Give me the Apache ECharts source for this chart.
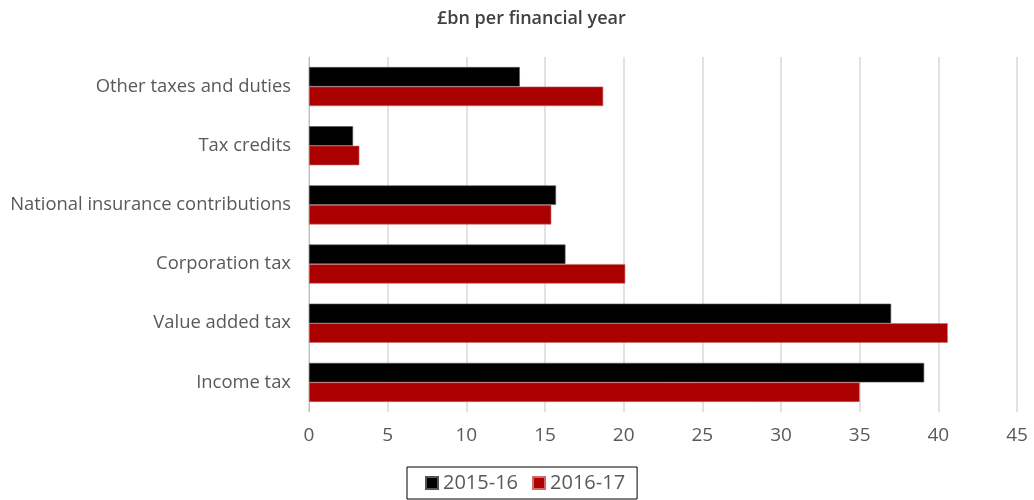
<!DOCTYPE html>
<html>
<head>
<meta charset="utf-8">
<script src="https://cdn.jsdelivr.net/npm/echarts@6/dist/echarts.min.js"></script>
<style>
  html, body { margin: 0; padding: 0; background: #fff; }
  #chart { width: 1034px; height: 500px; }
</style>
</head>
<body>
<div id="chart"></div>
<script>
// Tax categories, bottom to top as drawn on the category axis
const categories = [
  'Income tax',
  'Value added tax',
  'Corporation tax',
  'National insurance contributions',
  'Tax credits',
  'Other taxes and duties'
];
const seriesNames = ['2015-16', '2016-17'];
// £bn per financial year
const values2015 = [39.1, 37.0, 16.3, 15.7, 2.8, 13.4];
const values2016 = [35.0, 40.6, 20.1, 15.4, 3.2, 18.7];
const xTicks = { min: 0, max: 45, interval: 5 };

const FONT = '"Open Sans", "Noto Sans", sans-serif';
const chart = echarts.init(document.getElementById('chart'), null, { renderer: 'canvas' });

chart.setOption({
  animation: false,
  title: {
    text: '£bn per financial year',
    left: 432,
    top: 5,
    textStyle: { fontFamily: FONT, fontSize: 18, fontWeight: 600, color: '#404040' }
  },
  legend: {
    data: seriesNames,
    bottom: 1,
    left: 407,
    itemWidth: 12,
    itemHeight: 12,
    itemGap: 14,
    padding: [6, 12, 6, 18],
    borderColor: '#000',
    borderWidth: 1,
    icon: 'rect',
    textStyle: { fontFamily: FONT, fontSize: 20, color: '#595959' }
  },
  grid: { left: 309, right: 17, top: 57, bottom: 88, containLabel: false },
  xAxis: {
    type: 'value',
    min: xTicks.min,
    max: xTicks.max,
    interval: xTicks.interval,
    axisLine: { show: false },
    axisTick: { show: false },
    axisLabel: { fontFamily: FONT, fontSize: 19, color: '#595959', margin: 14 },
    splitLine: { lineStyle: { color: '#d9d9d9', width: 1.5 } }
  },
  yAxis: {
    type: 'category',
    data: categories,
    axisLine: { show: true, lineStyle: { color: '#bfbfbf', width: 1 } },
    axisTick: { show: false },
    axisLabel: { fontFamily: FONT, fontSize: 18.4, color: '#595959', margin: 18 }
  },
  series: [
    {
      name: seriesNames[0],
      type: 'bar',
      data: values2015,
      barGap: '0%',
      barCategoryGap: '34%',
      itemStyle: { color: '#000000', borderColor: '#555', borderWidth: 0.6 }
    },
    {
      name: seriesNames[1],
      type: 'bar',
      data: values2016,
      barGap: '0%',
      barCategoryGap: '34%',
      itemStyle: { color: '#ab0000', borderColor: '#d06a6a', borderWidth: 0.6 }
    }
  ]
});
</script>
</body>
</html>
